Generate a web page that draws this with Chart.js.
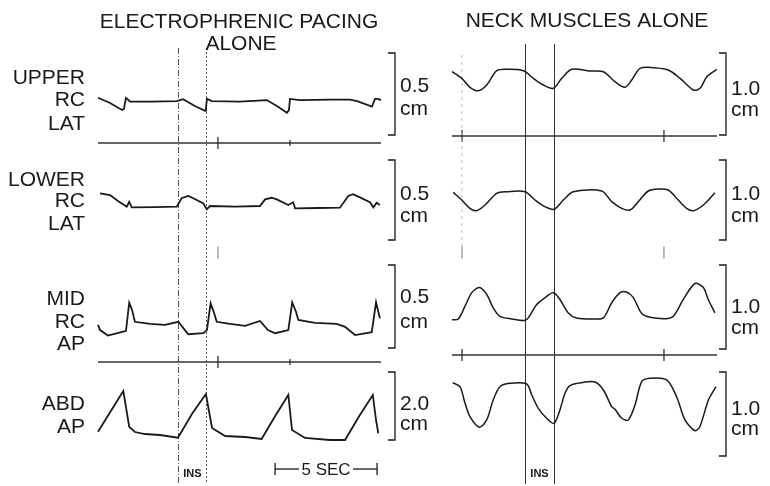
<!DOCTYPE html>
<html>
<head>
<meta charset="utf-8">
<script src="https://cdn.jsdelivr.net/npm/chart.js@4.4.1/dist/chart.umd.min.js"></script>
<style>
  html, body { margin: 0; padding: 0; background: #fff; }
  #trace-chart { display: block; }
</style>
</head>
<body>
<canvas id="trace-chart" width="770" height="486"></canvas>
<script>
'use strict';

// traces: [time (s), displacement (cm)]
const PACING_UPPER_RC_LAT = [
  [0, 0.227], [0.59, 0.195], [1.18, 0.152], [1.27, 0.159], [1.37, 0.226], [1.57, 0.204],
  [2.55, 0.203], [3.87, 0.207], [4.17, 0.218], [4.75, 0.177], [5.25, 0.148], [5.29, 0.159],
  [5.34, 0.22], [5.59, 0.207], [6.96, 0.204], [8.28, 0.213], [8.77, 0.177], [9.26, 0.136],
  [9.36, 0.152], [9.41, 0.22], [9.9, 0.213], [11.37, 0.216], [12.35, 0.216], [12.7, 0.207],
  [13.43, 0.173], [13.58, 0.22], [13.73, 0.22], [13.87, 0.213],
];
const PACING_LOWER_RC_LAT = [
  [0.1, 0.292], [0.59, 0.281], [0.98, 0.244], [1.41, 0.208], [1.53, 0.239], [1.65, 0.204],
  [2.79, 0.206], [3.86, 0.208], [4.1, 0.261], [4.43, 0.275], [4.84, 0.25], [5.16, 0.229],
  [5.33, 0.192], [5.49, 0.2125], [6.72, 0.209], [7.94, 0.2125], [8.19, 0.254], [8.51, 0.264],
  [8.76, 0.254], [9.33, 0.219], [9.57, 0.236], [9.66, 0.198], [10.78, 0.2], [11.86, 0.202],
  [12.27, 0.275], [12.51, 0.286], [12.76, 0.271], [13.33, 0.236], [13.5, 0.204], [13.66, 0.233],
  [13.82, 0.219],
];
const PACING_MID_RC_AP = [
  [0, 0.139], [0.1, 0.108], [0.49, 0.075], [1.23, 0.098], [1.37, 0.102], [1.53, 0.273],
  [1.67, 0.229], [1.81, 0.158], [2.55, 0.145], [3.28, 0.139], [3.94, 0.158], [4.26, 0.108],
  [4.43, 0.083], [5.16, 0.089], [5.34, 0.108], [5.52, 0.269], [5.69, 0.211], [5.82, 0.158],
  [6.47, 0.145], [7.21, 0.133], [7.94, 0.163], [8.33, 0.108], [8.68, 0.089], [9.33, 0.108],
  [9.52, 0.275], [9.71, 0.217], [9.82, 0.169], [10.64, 0.151], [11.7, 0.145], [12.11, 0.127],
  [12.6, 0.078], [13.42, 0.095], [13.63, 0.275], [13.82, 0.179],
];
const PACING_ABD_AP = [
  [0, 0.244], [1.24, 1.441], [1.53, 0.391], [1.81, 0.235], [2.3, 0.176], [3.04, 0.147],
  [3.92, 0.068], [4.62, 0.78], [5.29, 1.353], [5.59, 0.353], [6.23, 0.118], [7.21, 0.088],
  [8.02, 0.029], [8.7, 0.72], [9.33, 1.324], [9.51, 0.294], [10.15, 0.059], [11.37, 0],
  [12.11, 0], [12.8, 0.7], [13.47, 1.324], [13.63, 0.588], [13.74, 0.197],
];

const NECK_UPPER_RC_LAT = [
  [0, 0.772], [0.48, 0.691], [0.88, 0.582], [1.29, 0.54], [1.7, 0.61], [2.19, 0.784],
  [2.68, 0.801], [3.5, 0.784], [3.99, 0.691], [4.48, 0.61], [4.97, 0.57], [5.38, 0.691],
  [5.87, 0.801], [6.76, 0.78], [7.42, 0.772], [7.99, 0.65], [8.48, 0.582], [8.81, 0.671],
  [9.22, 0.813], [9.87, 0.821], [10.6, 0.793], [11.18, 0.691], [11.83, 0.549], [12.16, 0.57],
  [12.49, 0.711], [12.98, 0.801],
];
const NECK_LOWER_RC_LAT = [
  [0.06, 0.596], [0.48, 0.5], [0.88, 0.396], [1.21, 0.366], [1.62, 0.4375], [2.19, 0.584],
  [2.68, 0.604], [3.58, 0.604], [4.07, 0.5], [4.56, 0.416], [5.0, 0.384], [5.46, 0.5],
  [5.95, 0.604], [7.34, 0.6125], [7.83, 0.479], [8.32, 0.396], [8.73, 0.375], [9.13, 0.479],
  [9.62, 0.6125], [10.11, 0.6375], [10.6, 0.625], [11.09, 0.5], [11.5, 0.396], [11.83, 0.366],
  [12.32, 0.4375], [12.89, 0.591],
];
const NECK_MID_RC_AP = [
  [0, 0.349], [0.31, 0.358], [0.64, 0.51], [0.97, 0.671], [1.34, 0.731], [1.7, 0.651],
  [2.02, 0.49], [2.35, 0.389], [2.93, 0.358], [3.58, 0.341], [3.74, 0.37], [4.15, 0.53],
  [4.56, 0.611], [4.97, 0.671], [5.29, 0.59], [5.7, 0.43], [6.11, 0.37], [6.93, 0.358],
  [7.42, 0.37], [7.83, 0.551], [8.24, 0.671], [8.56, 0.678], [8.89, 0.611], [9.3, 0.422],
  [9.71, 0.377], [10.52, 0.361], [10.85, 0.389], [11.34, 0.59], [11.91, 0.78], [12.32, 0.731],
  [12.56, 0.59], [12.89, 0.43],
];
const NECK_ABD_AP = [
  [0.03, 0.873], [0.39, 0.825], [0.64, 0.627], [0.88, 0.468], [1.34, 0.342], [1.7, 0.429],
  [2.02, 0.667], [2.35, 0.825], [2.84, 0.865], [3.66, 0.857], [3.91, 0.726], [4.23, 0.568],
  [4.64, 0.449], [5.0, 0.389], [5.29, 0.548], [5.54, 0.746], [5.78, 0.837], [6.36, 0.873],
  [7.01, 0.881], [7.42, 0.786], [7.83, 0.587], [7.99, 0.556], [8.32, 0.449], [8.64, 0.429],
  [8.97, 0.607], [9.3, 0.885], [9.71, 0.925], [10.52, 0.905], [11.01, 0.706], [11.42, 0.429],
  [11.91, 0.301], [12.15, 0.349], [12.57, 0.667], [12.94, 0.825],
];

const ROW_LABELS = [['UPPER', 'RC', 'LAT'], ['LOWER', 'RC', 'LAT'], ['MID', 'RC', 'AP'], ['ABD', 'AP']];
const PACING_SCALE_CM = [0.5, 0.5, 0.5, 2.0];
const NECK_SCALE_CM = [1.0, 1.0, 1.0, 1.0];
const PACING_INS = [3.94, 5.31];
const NECK_INS = [3.58, 5.0];
const PACING_TIME_MARKS = [5.88, 9.41];
const NECK_TIME_MARKS = [0.49, 10.39];
const TIME_BAR_START = 8.68;
const TIME_BAR_SEC = 5;

// layout (pixels)
const W = 770;
const H = 486;
const PX_PER_SEC = 20.4;
const FONT = '"Liberation Sans", Arial, sans-serif';
const INK = '#1a1a1a';

const PANELS = [
  {
    id: 'Pacing',
    traces: [PACING_UPPER_RC_LAT, PACING_LOWER_RC_LAT, PACING_MID_RC_AP, PACING_ABD_AP],
    scaleCm: PACING_SCALE_CM,
    ins: PACING_INS,
    marks: PACING_TIME_MARKS,
    x0: 98,
    x1: 381,
    barX: 395,
    bars: [[53, 135], [160, 240], [265, 348], [372, 440]],
    scaleText: [[92, 115], [200, 222], [303, 328], [410, 430]],
    baselines: [143, 362],
    tension: 0,
    lineWidth: 1.8,
  },
  {
    id: 'Neck',
    traces: [NECK_UPPER_RC_LAT, NECK_LOWER_RC_LAT, NECK_MID_RC_AP, NECK_ABD_AP],
    scaleCm: NECK_SCALE_CM,
    ins: NECK_INS,
    marks: NECK_TIME_MARKS,
    x0: 452,
    x1: 717,
    barX: 726,
    bars: [[53, 135], [160, 240], [265, 349], [372, 456]],
    scaleText: [[95, 116], [200, 222], [313, 334], [415, 435]],
    baselines: [136, 355],
    tension: 0.3,
    lineWidth: 1.5,
  },
];

const LABEL_BASELINES = [[84, 106, 130], [186, 207, 230], [305, 328, 350], [410, 433]];

const scales = {};
const datasets = [];

PANELS.forEach((p) => {
  scales['x' + p.id] = {
    type: 'linear',
    axis: 'x',
    display: false,
    min: -p.x0 / PX_PER_SEC,
    max: (W - p.x0) / PX_PER_SEC,
  };
  p.traces.forEach((trace, i) => {
    const [top, bottom] = p.bars[i];
    const pxPerCm = (bottom - top) / p.scaleCm[i];
    scales['y' + p.id + i] = {
      type: 'linear',
      axis: 'y',
      display: false,
      min: -(H - bottom) / pxPerCm,
      max: bottom / pxPerCm,
    };
    datasets.push({
      data: trace.map(([x, y]) => ({ x, y })),
      xAxisID: 'x' + p.id,
      yAxisID: 'y' + p.id + i,
      showLine: true,
      borderColor: INK,
      borderWidth: p.lineWidth,
      pointRadius: 0,
      tension: p.tension,
      fill: false,
    });
  });
});

const line = (ctx, x1, y1, x2, y2) => {
  ctx.beginPath();
  ctx.moveTo(x1, y1);
  ctx.lineTo(x2, y2);
  ctx.stroke();
};

const overlay = {
  id: 'overlay',
  beforeDatasetsDraw(chart) {
    const ctx = chart.ctx;
    ctx.save();
    PANELS.forEach((p) => {
      const xs = chart.scales['x' + p.id];
      // INS markers
      p.ins.forEach((t, k) => {
        const x = Math.round(xs.getPixelForValue(t)) + 0.5;
        if (p.id === 'Pacing') {
          ctx.strokeStyle = '#555';
          ctx.lineWidth = 1;
          ctx.setLineDash(k === 0 ? [6, 2, 1, 2] : [2, 2]);
          line(ctx, x, 48, x, 484);
        } else {
          ctx.strokeStyle = '#333';
          ctx.lineWidth = 1;
          ctx.setLineDash([]);
          line(ctx, x, 44, x, 484);
        }
      });
      ctx.setLineDash([]);
      // baselines with time marks
      ctx.strokeStyle = '#333';
      ctx.lineWidth = 1.3;
      p.baselines.forEach((y) => {
        line(ctx, p.x0, y, p.x1, y);
        p.marks.forEach((t, k) => {
          const x = xs.getPixelForValue(t);
          const len = k === 0 || p.id === 'Neck' ? 6 : 3;
          line(ctx, x, y - len, x, y + len);
        });
      });
      // faint mark between the middle rows
      const mid = (p.bars[1][1] + p.bars[2][0]) / 2;
      p.marks.forEach((t, k) => {
        if (p.id === 'Pacing' && k > 0) return;
        const x = xs.getPixelForValue(t);
        ctx.strokeStyle = '#777';
        ctx.lineWidth = 1;
        line(ctx, x, mid - 6, x, mid + 6);
      });
      if (p.id === 'Neck') {
        ctx.strokeStyle = '#bbb';
        ctx.setLineDash([3, 4]);
        const x = xs.getPixelForValue(p.marks[0]);
        line(ctx, x, 55, x, 250);
        ctx.setLineDash([]);
      }
    });
    ctx.restore();
  },
  afterDraw(chart) {
    const ctx = chart.ctx;
    ctx.save();
    ctx.fillStyle = INK;
    ctx.strokeStyle = INK;
    ctx.textBaseline = 'alphabetic';

    // titles
    ctx.font = '21px ' + FONT;
    ctx.textAlign = 'center';
    ctx.fillText('ELECTROPHRENIC PACING', 239, 28);
    ctx.fillText('ALONE', 241, 50);
    ctx.fillText('NECK MUSCLES ALONE', 587, 27);

    // row labels
    ctx.textAlign = 'right';
    ROW_LABELS.forEach((words, i) => {
      words.forEach((w, j) => ctx.fillText(w, 85, LABEL_BASELINES[i][j]));
    });

    PANELS.forEach((p) => {
      const xs = chart.scales['x' + p.id];
      // scale bars, drawn from 0 to the bar length on each row's own axis
      p.scaleCm.forEach((cm, i) => {
        const ys = chart.scales['y' + p.id + i];
        const yTop = ys.getPixelForValue(cm);
        const yBot = ys.getPixelForValue(0);
        ctx.lineWidth = 1.3;
        ctx.beginPath();
        ctx.moveTo(p.barX - 7, yTop);
        ctx.lineTo(p.barX, yTop);
        ctx.lineTo(p.barX, yBot);
        ctx.lineTo(p.barX - 7, yBot);
        ctx.stroke();
        ctx.textAlign = 'left';
        ctx.font = '21px ' + FONT;
        ctx.fillText(cm.toFixed(1), p.barX + 5, p.scaleText[i][0]);
        ctx.fillText('cm', p.barX + 5, p.scaleText[i][1]);
      });
      // INS label
      const xa = xs.getPixelForValue(p.ins[0]);
      const xb = xs.getPixelForValue(p.ins[1]);
      ctx.font = 'bold 11px ' + FONT;
      ctx.textAlign = 'center';
      ctx.fillText('INS', (xa + xb) / 2, 477);
    });

    // 5 second time bar on the pacing time axis
    const xs = chart.scales.xPacing;
    const a = xs.getPixelForValue(TIME_BAR_START);
    const b = xs.getPixelForValue(TIME_BAR_START + TIME_BAR_SEC);
    const y = 469;
    ctx.lineWidth = 1.3;
    line(ctx, a, y - 6, a, y + 6);
    line(ctx, b, y - 6, b, y + 6);
    line(ctx, a, y, a + 24, y);
    line(ctx, b - 24, y, b, y);
    ctx.font = '17px ' + FONT;
    ctx.textAlign = 'center';
    ctx.fillText(TIME_BAR_SEC + ' SEC', (a + b) / 2, 475);

    ctx.restore();
  },
};

new Chart(document.getElementById('trace-chart'), {
  type: 'scatter',
  data: { datasets },
  options: {
    responsive: false,
    devicePixelRatio: 1,
    animation: false,
    layout: { padding: 0 },
    scales,
    plugins: {
      legend: { display: false },
      tooltip: { enabled: false },
    },
  },
  plugins: [overlay],
});
</script>
</body>
</html>
